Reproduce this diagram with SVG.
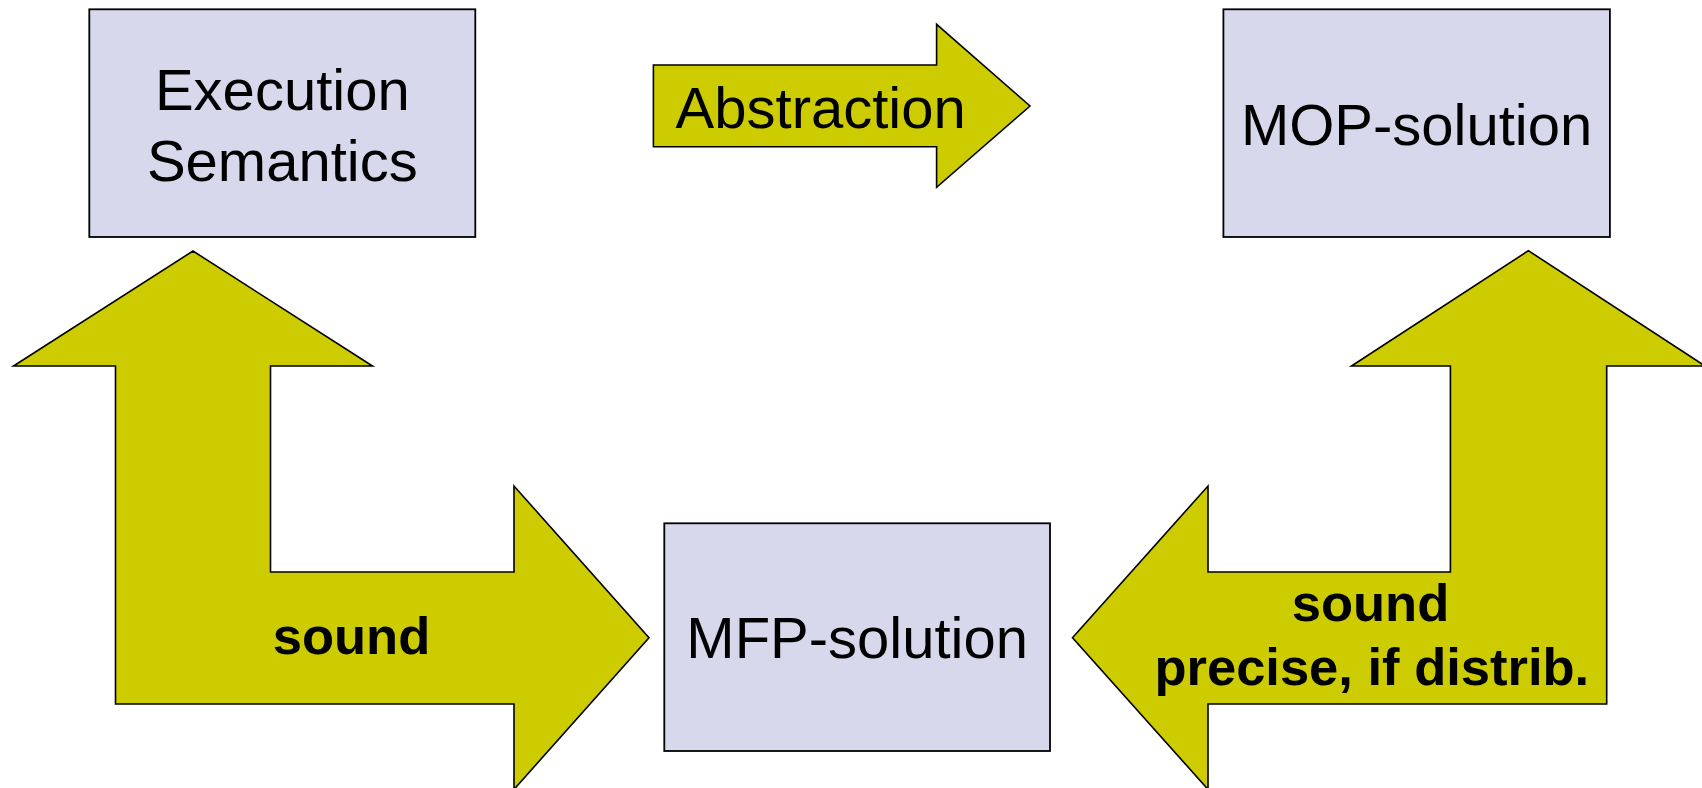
<svg xmlns="http://www.w3.org/2000/svg" width="1702" height="788" viewBox="0 0 1702 788">
<style>
.box{fill:#D8D8EC;stroke:#000;stroke-width:1.8}
.arr{fill:#CCCC00;stroke:#000;stroke-width:1.6;stroke-linejoin:miter}
.t{font-family:"Liberation Sans",Arial,sans-serif;font-size:58px;fill:#000;text-anchor:middle}
.b{font-family:"Liberation Sans",Arial,sans-serif;font-size:52.5px;font-weight:bold;fill:#000;text-anchor:middle}
</style>
<rect width="1702" height="788" fill="#fff"/>
<g id="connectors">
<g id="abstraction-arrow">
<polygon class="arr" points="653.4,65 936.6,65 936.6,24.3 1030,106 936.6,187.3 936.6,146.7 653.4,146.7"/>
<text class="t" x="820.7" y="127.7">Abstraction</text>
</g>
<g id="sound-left-arrow">
<polygon class="arr" points="193,251 372.5,366 270.5,366 270.5,572 514,572 514,486 649,637.7 514,789.4 514,704 115.5,704 115.5,366 13.5,366"/>
<text class="b" x="351.5" y="654">sound</text>
</g>
<g id="sound-right-arrow">
<polygon class="arr" points="1528.4,250.7 1705,366 1606.7,366 1606.7,704 1208,704 1208,789.4 1072.5,637.7 1208,486 1208,572 1450.4,572 1450.4,366 1351.5,366"/>
<text class="b" x="1370.5" y="620.7">sound</text>
<text class="b" x="1371.8" y="685">precise, if distrib.</text>
</g>
</g>
<g id="execution-semantics">
<rect class="box" x="89.3" y="9.3" width="386" height="227.7"/>
<text class="t" x="282.3" y="110">Execution</text>
<text class="t" x="282.3" y="181">Semantics</text>
</g>
<g id="mop-solution">
<rect class="box" x="1223.4" y="9.3" width="386.5" height="227.7"/>
<text class="t" x="1416.6" y="145">MOP-solution</text>
</g>
<g id="mfp-solution">
<rect class="box" x="664.3" y="523.3" width="385.7" height="227.7"/>
<text class="t" x="857.2" y="658">MFP-solution</text>
</g>
</svg>
